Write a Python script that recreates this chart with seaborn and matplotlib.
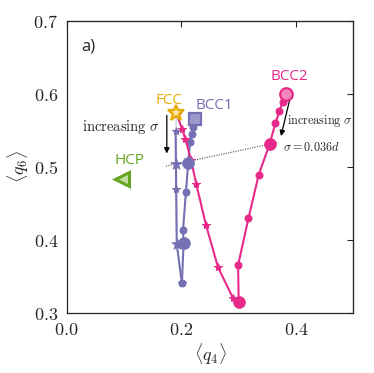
import numpy as np
import pandas as pd
import matplotlib
matplotlib.use("Agg")
import matplotlib.pyplot as plt
import seaborn as sns

# order parameters
bcc1_star_q4 = [0.190, 0.190, 0.190, 0.191, 0.190, 0.191, 0.191, 0.192, 0.201]
bcc1_star_q6 = [0.574, 0.563, 0.551, 0.533, 0.504, 0.463, 0.410, 0.394, 0.340]
bcc1_circ_q4 = [0.222, 0.221, 0.218, 0.215, 0.212, 0.208, 0.203, 0.204, 0.201]
bcc1_circ_q6 = [0.562, 0.554, 0.545, 0.533, 0.505, 0.465, 0.413, 0.395, 0.340]
bcc2_star_q4 = [0.192, 0.201, 0.207, 0.217, 0.226, 0.243, 0.264, 0.290, 0.300]
bcc2_star_q6 = [0.572, 0.552, 0.538, 0.509, 0.476, 0.420, 0.362, 0.320, 0.315]
bcc2_circ_q4 = [0.383, 0.377, 0.371, 0.364, 0.354, 0.335, 0.317, 0.299, 0.300]
bcc2_circ_q6 = [0.599, 0.589, 0.576, 0.559, 0.531, 0.489, 0.429, 0.365, 0.315]

crystals = ["FCC", "BCC1", "HCP", "BCC2"]
crystal_q4 = [0.190, 0.224, 0.096, 0.383]
crystal_q6 = [0.574, 0.565, 0.483, 0.600]

sigma_line_q4 = [0.1734, 0.3696]
sigma_line_q6 = [0.5006, 0.5333]

purple = "#7570b3"
pink = "#e7298a"
orange = "#e6ab02"
green = "#66a61e"

sns.set_style("white")
plt.rcParams["mathtext.fontset"] = "cm"
plt.rcParams["font.family"] = ["DejaVu Sans"]

fig = plt.figure(figsize=(3.74, 3.73), dpi=100)
ax = fig.add_axes([0.178, 0.162, 0.767, 0.783])

def draw(q4, q6, color, marker, ms, big):
    df = pd.DataFrame({"q4": q4, "q6": q6})
    sns.lineplot(data=df, x="q4", y="q6", sort=False, color=color, lw=1.5,
                 marker=marker, markersize=ms, markeredgecolor=color, ax=ax)
    if big:
        sns.scatterplot(data=df.iloc[big], x="q4", y="q6", color=color, marker=marker,
                        s=70, edgecolor=color, ax=ax, zorder=5)

draw(bcc1_star_q4, bcc1_star_q6, purple, "*", 6, [4, 7])
draw(bcc1_circ_q4, bcc1_circ_q6, purple, "o", 5, [4, 7])
draw(bcc2_star_q4, bcc2_star_q6, pink, "*", 6, [])
draw(bcc2_circ_q4, bcc2_circ_q6, pink, "o", 5, [0, 4, 8])

ax.plot(sigma_line_q4, sigma_line_q6, color="0.3", ls=(0, (1, 1.2)), lw=0.8, zorder=1)

# reference crystals
ax.plot(crystal_q4[0], crystal_q6[0], marker="*", ms=12, mfc="#fbe3a0", mec=orange, mew=1.6, zorder=6)
ax.plot(crystal_q4[1], crystal_q6[1], marker="s", ms=8, mfc="#9d99cc", mec=purple, mew=1.6, zorder=6)
ax.plot(crystal_q4[2], crystal_q6[2], marker="<", ms=10, mfc="#c2dca6", mec=green, mew=2.2, zorder=6)
ax.plot(crystal_q4[3], crystal_q6[3], marker="o", ms=9, mfc="#f288bd", mec=pink, mew=1.6, zorder=6)

ax.text(0.179, 0.590, "FCC", color=orange, fontsize=11, ha="center", va="center", family="Open Sans")
ax.text(0.257, 0.583, "BCC1", color=purple, fontsize=11, ha="center", va="center", family="Open Sans")
ax.text(0.109, 0.508, "HCP", color=green, fontsize=11, ha="center", va="center", family="Open Sans")
ax.text(0.388, 0.623, "BCC2", color=pink, fontsize=11, ha="center", va="center", family="Open Sans")
ax.text(0.025, 0.665, "a)", fontsize=12, ha="left", va="center", family="Open Sans")

ax.annotate("", xy=(0.1747, 0.514), xytext=(0.1747, 0.574),
            arrowprops=dict(arrowstyle="-|>", color="k", lw=0.9, mutation_scale=8))
ax.text(0.163, 0.554, r"$\mathrm{increasing}\ \sigma$", fontsize=10.5, ha="right", va="center")
ax.annotate("", xy=(0.3726, 0.538), xytext=(0.390, 0.595),
            arrowprops=dict(arrowstyle="-|>", color="k", lw=0.9, mutation_scale=8))
ax.text(0.384, 0.563, r"$\mathrm{increasing}\ \sigma$", fontsize=8.8, ha="left", va="center")
ax.text(0.377, 0.526, r"$\sigma = 0.036d$", fontsize=8.8, ha="left", va="center")

ax.set_xlim(0, 0.5)
ax.set_ylim(0.3, 0.7)
ax.set_xticks([0.0, 0.2, 0.4])
ax.set_xticklabels([r"$0.0$", r"$0.2$", r"$0.4$"], fontsize=13)
ax.set_yticks([0.3, 0.4, 0.5, 0.6, 0.7])
ax.set_yticklabels([r"$0.3$", r"$0.4$", r"$0.5$", r"$0.6$", r"$0.7$"], fontsize=13)
ax.set_xlabel(r"$\langle q_4 \rangle$", fontsize=13, labelpad=2)
ax.set_ylabel(r"$\langle q_6 \rangle$", fontsize=13, labelpad=2)
ax.tick_params(direction="out", length=4, width=0.8, pad=2, colors="0.15")
for s in ax.spines.values():
    s.set_color("0.15")
    s.set_linewidth(0.9)

sec_x = ax.secondary_xaxis("top")
sec_x.set_xticks([0.0, 0.2, 0.4])
sec_x.tick_params(direction="in", length=4, width=0.8, labeltop=False, colors="0.15")
sec_y = ax.secondary_yaxis("right")
sec_y.set_yticks([0.3, 0.4, 0.5, 0.6, 0.7])
sec_y.tick_params(direction="in", length=4, width=0.8, labelright=False, colors="0.15")

fig.savefig("out.png", dpi=100)
